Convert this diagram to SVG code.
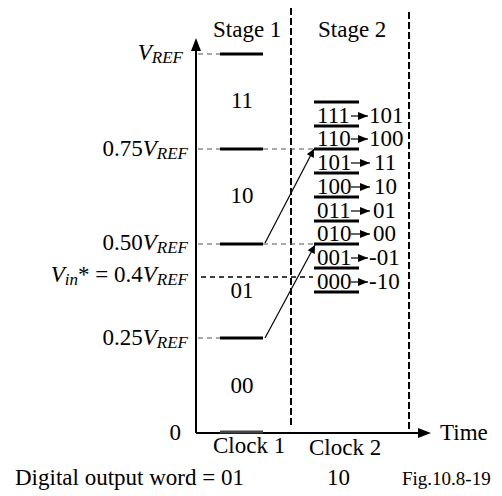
<svg xmlns="http://www.w3.org/2000/svg" width="502" height="496" viewBox="0 0 502 496">
<defs>
<style>
text{font-family:"Liberation Serif","Times New Roman",serif;font-size:23px;fill:#000}
.it{font-style:italic}
.sub{font-style:italic;font-size:17px}
.bar{stroke:#000;stroke-width:3}
.gd{stroke:#555;stroke-width:1.2;stroke-dasharray:5 4;fill:none}
.vd{stroke:#000;stroke-width:2;stroke-dasharray:7 3;fill:none}
.ax{stroke:#000;stroke-width:2;fill:none}
.thin{stroke:#000;stroke-width:1.2;fill:none}
</style>
<marker id="ah" viewBox="0 0 10 10" refX="10" refY="5" markerWidth="10" markerHeight="10" markerUnits="userSpaceOnUse" orient="auto">
<path d="M0,1 L10,5 L0,9 z" fill="#000"/>
</marker>
<marker id="ah2" viewBox="0 0 10 10" refX="10" refY="5" markerWidth="9" markerHeight="8" markerUnits="userSpaceOnUse" orient="auto">
<path d="M0,0 L10,5 L0,10 z" fill="#000"/>
</marker>
</defs>
<rect width="502" height="496" fill="#fff"/>

<g id="axes">
<line class="ax" x1="196" y1="433" x2="196" y2="50"/>
<path d="M196,38 L191,51 L201,51 z" fill="#000"/>
<line class="ax" x1="196" y1="433" x2="418" y2="433"/>
<path d="M431,433 L418,428 L418,438 z" fill="#000"/>
<text x="440" y="440">Time</text>
</g>

<g id="clock-lines">
<line class="vd" x1="291" y1="8" x2="291" y2="428"/>
<line class="vd" x1="409" y1="12" x2="409" y2="430"/>
</g>

<g id="stage1">
<text x="213" y="37">Stage 1</text>
<line class="bar" x1="220" y1="54" x2="263" y2="54"/>
<line class="bar" x1="220" y1="149" x2="263" y2="149"/>
<line class="bar" x1="220" y1="244" x2="263" y2="244"/>
<line class="bar" x1="220" y1="338" x2="263" y2="338"/>
<line x1="220" y1="432" x2="263" y2="432" stroke="#444" stroke-width="3"/>
<text x="242" y="108" text-anchor="middle">11</text>
<text x="242" y="203" text-anchor="middle">10</text>
<text x="242" y="298" text-anchor="middle">01</text>
<text x="242" y="393" text-anchor="middle">00</text>
</g>

<g id="level-labels">
<text x="183" y="60" text-anchor="end"><tspan class="it">V</tspan><tspan class="sub" dy="3">REF</tspan></text>
<text x="188" y="156" text-anchor="end">0.75<tspan class="it">V</tspan><tspan class="sub" dy="3">REF</tspan></text>
<text x="188" y="250" text-anchor="end">0.50<tspan class="it">V</tspan><tspan class="sub" dy="3">REF</tspan></text>
<text x="188" y="282" text-anchor="end"><tspan class="it">V</tspan><tspan class="sub" dy="3">in</tspan><tspan dy="-3">* = 0.4</tspan><tspan class="it">V</tspan><tspan class="sub" dy="3">REF</tspan></text>
<text x="188" y="345" text-anchor="end">0.25<tspan class="it">V</tspan><tspan class="sub" dy="3">REF</tspan></text>
<text x="181" y="440" text-anchor="end">0</text>
</g>

<g id="stage2">
<text x="318" y="37">Stage 2</text>
<g class="bar">
<line x1="314" y1="102" x2="359" y2="102"/>
<line x1="314" y1="126" x2="359" y2="126"/>
<line x1="314" y1="149" x2="359" y2="149"/>
<line x1="314" y1="173" x2="359" y2="173"/>
<line x1="314" y1="197" x2="359" y2="197"/>
<line x1="314" y1="221" x2="359" y2="221"/>
<line x1="314" y1="244" x2="359" y2="244"/>
<line x1="314" y1="268" x2="359" y2="268"/>
<line x1="314" y1="292" x2="359" y2="292"/>
</g>
<text x="317" y="123">111</text>
<text x="317" y="146">110</text>
<text x="317" y="170">101</text>
<text x="317" y="194">100</text>
<text x="317" y="218">011</text>
<text x="317" y="241">010</text>
<text x="317" y="265">001</text>
<text x="317" y="289">000</text>
<g class="thin" marker-end="url(#ah)">
<line x1="351" y1="116" x2="368" y2="116"/>
<line x1="351" y1="139" x2="368" y2="139"/>
<line x1="351" y1="163" x2="370" y2="163"/>
<line x1="351" y1="187" x2="370" y2="187"/>
<line x1="351" y1="211" x2="370" y2="211"/>
<line x1="351" y1="234" x2="370" y2="234"/>
<line x1="351" y1="258" x2="368" y2="258"/>
<line x1="351" y1="282" x2="368" y2="282"/>
</g>
<text x="369" y="123">101</text>
<text x="369" y="146">100</text>
<text x="374" y="170">11</text>
<text x="374" y="194">10</text>
<text x="373" y="218">01</text>
<text x="373" y="241">00</text>
<text x="369" y="265">-01</text>
<text x="369" y="289">-10</text>
</g>

<g id="connectors">
<line class="gd" x1="198" y1="54" x2="220" y2="54"/>
<line class="gd" x1="198" y1="149" x2="220" y2="149"/>
<line class="gd" x1="198" y1="244" x2="220" y2="244"/>
<line class="gd" x1="198" y1="338" x2="220" y2="338"/>
<line class="gd" x1="263" y1="149" x2="313" y2="149"/>
<line class="gd" x1="263" y1="244" x2="313" y2="244"/>
<line x1="201" y1="277" x2="313" y2="277" stroke="#000" stroke-width="1.5" stroke-dasharray="5 4"/>
<line class="thin" x1="265" y1="243" x2="314" y2="149" marker-end="url(#ah2)"/>
<line class="thin" x1="265" y1="338" x2="315" y2="245" marker-end="url(#ah2)"/>
</g>

<g id="footer">
<text x="213" y="453">Clock 1</text>
<text x="309" y="455">Clock 2</text>
<text x="15" y="485">Digital output word = 01</text>
<text x="327" y="485">10</text>
<text x="402" y="485" style="font-size:19px">Fig.10.8-19</text>
</g>
</svg>
